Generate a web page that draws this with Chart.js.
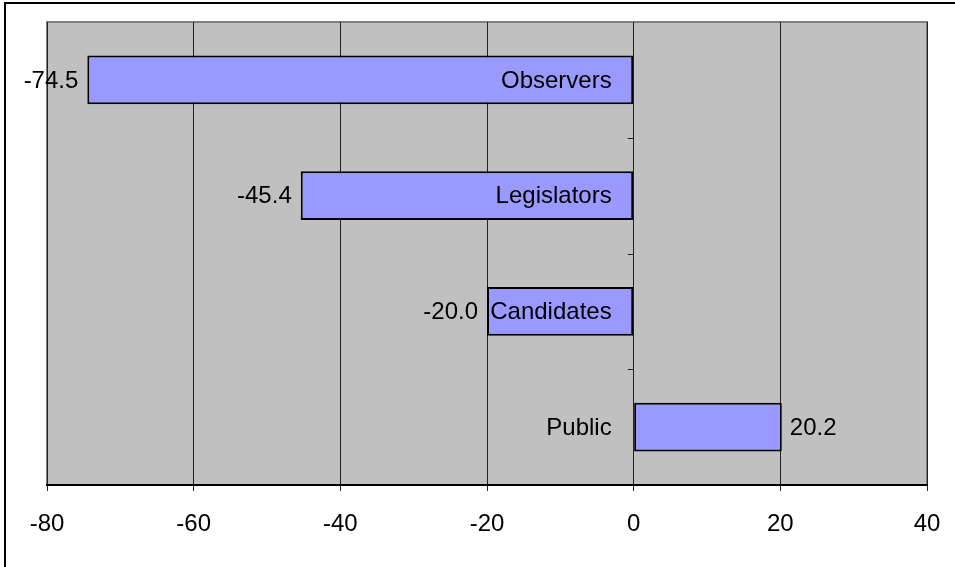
<!DOCTYPE html>
<html>
<head>
<meta charset="utf-8">
<script src="https://cdn.jsdelivr.net/npm/chart.js@4/dist/chart.umd.min.js"></script>
<style>
  html, body { margin: 0; padding: 0; background: #fff; }
  #wrap { width: 955px; height: 567px; }
</style>
</head>
<body>
<div id="wrap"><canvas id="myChart" width="955" height="567"></canvas></div>
<script>
const categories = ["Observers", "Legislators", "Candidates", "Public"];
const scores = [-74.5, -45.4, -20.0, 20.2];
const xTicks = [-80, -60, -40, -20, 0, 20, 40];

const fontFamily = "'Liberation Sans', Arial, sans-serif";

// gray plot area, frame, zero-line ticks and text labels
const decorPlugin = {
  id: "decor",
  beforeDraw(chart) {
    const ctx = chart.ctx;
    const a = chart.chartArea;
    ctx.save();
    ctx.fillStyle = "#fff";
    ctx.fillRect(0, 0, chart.width, chart.height);
    ctx.strokeStyle = "#000";
    ctx.lineWidth = 2;
    ctx.strokeRect(5, 3, chart.width + 10, chart.height + 10);
    ctx.fillStyle = "#c0c0c0";
    ctx.fillRect(a.left, a.top, a.right - a.left, a.bottom - a.top);
    ctx.strokeStyle = "#808080";
    ctx.lineWidth = 2;
    ctx.strokeRect(a.left, a.top, a.right - a.left, a.bottom - a.top);
    ctx.restore();
  },
  afterDatasetsDraw(chart) {
    const ctx = chart.ctx;
    const x = chart.scales.x;
    const y = chart.scales.y;
    const zero = x.getPixelForValue(0);
    ctx.save();
    // small ticks on the zero line between categories
    ctx.strokeStyle = "#222";
    ctx.lineWidth = 1;
    for (let i = 1; i < categories.length; i++) {
      const yy = Math.round((y.getPixelForValue(i - 1) + y.getPixelForValue(i)) / 2) + 0.5;
      ctx.beginPath();
      ctx.moveTo(zero - 6, yy);
      ctx.lineTo(zero, yy);
      ctx.stroke();
    }
    ctx.font = "24px " + fontFamily;
    ctx.fillStyle = "#000";
    ctx.textBaseline = "middle";
    categories.forEach((name, i) => {
      const cy = y.getPixelForValue(i) + 1;
      ctx.textAlign = "right";
      ctx.fillText(name, zero - 22, cy);
      const end = x.getPixelForValue(scores[i]);
      if (scores[i] < 0) {
        ctx.textAlign = "right";
        ctx.fillText(scores[i].toFixed(1), end - 9, cy);
      } else {
        ctx.textAlign = "left";
        ctx.fillText(scores[i].toFixed(1), end + 8, cy);
      }
    });
    ctx.restore();
  }
};

new Chart(document.getElementById("myChart").getContext("2d"), {
  type: "bar",
  data: {
    labels: categories,
    datasets: [{
      data: scores,
      backgroundColor: "#9999ff",
      borderColor: "#000",
      borderWidth: 2,
      borderSkipped: false,
      categoryPercentage: 1,
      barPercentage: 0.42
    }]
  },
  options: {
    indexAxis: "y",
    responsive: false,
    animation: false,
    layout: { padding: { left: 47, right: 28, top: 22, bottom: 0 } },
    plugins: { legend: { display: false }, tooltip: { enabled: false } },
    scales: {
      x: {
        min: -80,
        max: 40,
        afterBuildTicks(scale) {
          scale.ticks = xTicks.map(v => ({ value: v }));
        },
        afterFit(scale) {
          scale.height = 82;
          scale.paddingLeft = 0;
          scale.paddingRight = 0;
        },
        grid: {
          color: "#222",
          lineWidth: 1,
          tickLength: 6,
          drawOnChartArea: true
        },
        border: { display: true, color: "#000", width: 2 },
        ticks: {
          color: "#000",
          padding: 19,
          maxRotation: 0,
          font: { family: fontFamily, size: 24 }
        }
      },
      y: { display: false }
    }
  },
  plugins: [decorPlugin]
});
</script>
</body>
</html>
